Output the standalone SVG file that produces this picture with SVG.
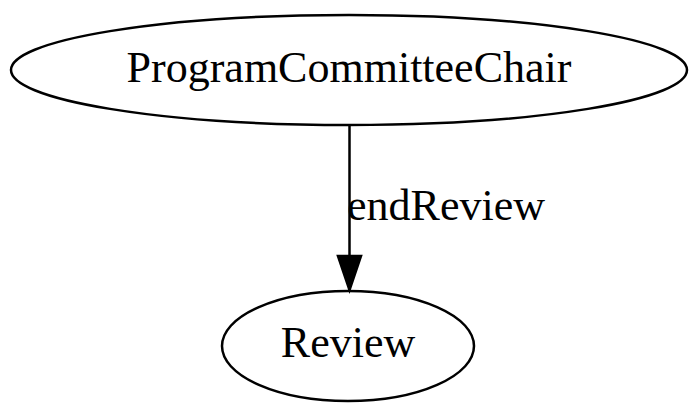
<svg xmlns="http://www.w3.org/2000/svg" width="700" height="414" viewBox="0 0 700 414">
<style>
.n ellipse{fill:none;stroke:#000;stroke-width:2.5}
text{font-family:"Liberation Serif","Times New Roman",serif;font-size:44px;fill:#000}
</style>
<rect width="700" height="414" fill="#fff"/>
<g id="connectors">
<line x1="349.5" y1="125" x2="349.5" y2="256" stroke="#000" stroke-width="2.5"/>
<path d="M338,256 L349.5,290 L361,256 Z" fill="#000" stroke="#000" stroke-width="2.5"/>
<text x="347" y="220">endReview</text>
</g>
<g id="ProgramCommitteeChair" class="n">
<ellipse cx="349" cy="70" rx="338" ry="55"/>
<text x="349" y="82" text-anchor="middle">ProgramCommitteeChair</text>
</g>
<g id="Review" class="n">
<ellipse cx="348" cy="346" rx="126" ry="55"/>
<text x="348" y="357" text-anchor="middle">Review</text>
</g>
</svg>
